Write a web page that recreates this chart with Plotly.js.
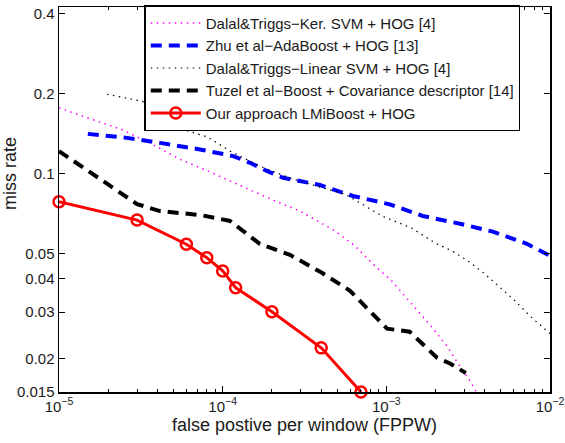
<!DOCTYPE html>
<html>
<head>
<meta charset="utf-8">
<script src="https://cdn.plot.ly/plotly-3.0.1.min.js"></script>
<style>html,body{margin:0;padding:0;background:#fff;}#chart{width:565px;height:443px;}</style>
</head>
<body>
<div id="chart"></div>
<script>
// ---- data ----
const seriesNames = [
  'Dalal&Triggs\u2212Ker. SVM + HOG [4]',
  'Zhu et al\u2212AdaBoost + HOG [13]',
  'Dalal&Triggs\u2212Linear SVM + HOG [4]',
  'Tuzel et al\u2212Boost + Covariance descriptor [14]',
  'Our approach LMiBoost + HOG'
];

const kerSvmX = [1e-5, 1.5e-5, 2.43e-5, 3.6e-5, 5.49e-5, 8.13e-5, 1.31e-4, 2.09e-4, 2.97e-4, 3.66e-4, 4.85e-4, 6.43e-4, 8.51e-4, 1.08e-3, 1.25e-3, 1.5e-3, 1.9e-3, 2.38e-3, 2.74e-3, 3.15e-3, 3.58e-3];
const kerSvmY = [0.1765, 0.162, 0.146, 0.130, 0.113, 0.102, 0.0896, 0.0787, 0.0721, 0.0671, 0.0607, 0.0533, 0.0448, 0.0393, 0.0355, 0.0312, 0.0263, 0.0221, 0.0192, 0.0170, 0.0149];

const zhuX = [1.5e-5, 2.6e-5, 4.14e-5, 7.27e-5, 1.16e-4, 1.47e-4, 1.87e-4, 2.34e-4, 3.93e-4, 6.25e-4, 1.05e-3, 1.67e-3, 2.82e-3, 4.48e-3, 7.22e-3, 1e-2];
const zhuY = [0.1409, 0.1361, 0.1303, 0.1231, 0.1162, 0.1096, 0.102, 0.0963, 0.0904, 0.0822, 0.0764, 0.0691, 0.0646, 0.0603, 0.0543, 0.0489];

const linSvmX = [1.965e-5, 3.21e-5, 4.44e-5, 5.64e-5, 8.13e-5, 1.11e-4, 1.69e-4, 2.58e-4, 3.93e-4, 5.59e-4, 7.1e-4, 9.4e-4, 1.43e-3, 1.98e-3, 2.52e-3, 3.15e-3, 4.0e-3, 5.08e-3, 6.11e-3, 7.54e-3, 9.06e-3, 1e-2];
const linSvmY = [0.1987, 0.1871, 0.1686, 0.1468, 0.137, 0.1213, 0.1065, 0.096, 0.0888, 0.0836, 0.0766, 0.0691, 0.0622, 0.0547, 0.051, 0.0468, 0.0418, 0.0367, 0.0331, 0.029, 0.0262, 0.0249];

const tuzelX = [1e-5, 1.78e-5, 3.0e-5, 4.14e-5, 7.27e-5, 1.11e-4, 1.69e-4, 2.58e-4, 4.04e-4, 6.0e-4, 8.5e-4, 1.01e-3, 1.39e-3, 2.04e-3, 2.45e-3, 3.06e-3];
const tuzelY = [0.1213, 0.0952, 0.0766, 0.0721, 0.0697, 0.0662, 0.0542, 0.0493, 0.0422, 0.0361, 0.029, 0.026, 0.0253, 0.0202, 0.0192, 0.0177];

const oursX = [1e-5, 3e-5, 6e-5, 8e-5, 1e-4, 1.2e-4, 2e-4, 4e-4, 7e-4];
const oursY = [0.0782, 0.0667, 0.0541, 0.0481, 0.0429, 0.0371, 0.0301, 0.022, 0.015];

const xTickVals = [1e-5, 1e-4, 1e-3, 1e-2];
const xTickText = ['10<sup>\u22125</sup>', '10<sup>\u22124</sup>', '10<sup>\u22123</sup>', '10<sup>\u22122</sup>'];
const yTickVals = [0.015, 0.02, 0.03, 0.04, 0.05, 0.1, 0.2, 0.4];
const yTickText = ['0.015', '0.02', '0.03', '0.04', '0.05', '0.1', '0.2', '0.4'];

const xTitle = 'false postive per window (FPPW)';
const yTitle = 'miss rate';

// minor x ticks: 2..9 within each decade
const xMinor = [];
[1e-5, 1e-4, 1e-3].forEach(d => { for (let k = 2; k <= 9; k++) xMinor.push(k * d); });

const FONT = 'Liberation Sans, Arial, Helvetica, sans-serif';
const TXT = '#1a1a1a';

const traces = [
  {x: kerSvmX, y: kerSvmY, name: seriesNames[0], mode: 'lines',
   line: {color: '#ff00ff', width: 1.5, dash: '1.5px,4.5px'}},
  {x: zhuX, y: zhuY, name: seriesNames[1], mode: 'lines',
   line: {color: '#0000ff', width: 4, dash: '11px,7px'}},
  {x: linSvmX, y: linSvmY, name: seriesNames[2], mode: 'lines',
   line: {color: '#000000', width: 1.2, dash: '1.5px,4.5px'}},
  {x: tuzelX, y: tuzelY, name: seriesNames[3], mode: 'lines',
   line: {color: '#000000', width: 4, dash: '11px,7px'}},
  {x: oursX, y: oursY, name: seriesNames[4], mode: 'lines+markers', cliponaxis: false,
   line: {color: '#ff0000', width: 3},
   marker: {symbol: 'circle-open', size: 11, color: '#ff0000', line: {width: 2.5, color: '#ff0000'}}}
];

const layout = {
  width: 565, height: 443,
  margin: {l: 59, r: 15, t: 6, b: 51},
  paper_bgcolor: '#ffffff', plot_bgcolor: '#ffffff',
  font: {family: FONT, color: TXT, size: 15},
  showlegend: true,
  legend: {
    x: 0.1737, y: 1.002, xanchor: 'left', yanchor: 'top',
    bgcolor: '#ffffff', bordercolor: '#000000', borderwidth: 1.5,
    font: {family: FONT, size: 15, color: TXT},
    itemwidth: 50, tracegroupgap: 0,
    entrywidthmode: 'pixels', entrywidth: 335
  },
  xaxis: {
    type: 'log', range: [-5, -2],
    tickmode: 'array', tickvals: xTickVals, ticktext: xTickText,
    ticks: 'inside', ticklen: 6, tickwidth: 1, tickcolor: '#000',
    showline: true, linecolor: '#000', linewidth: 1.5, mirror: 'ticks',
    showgrid: false, zeroline: false,
    tickfont: {family: FONT, size: 15, color: TXT},
    minor: {tickvals: xMinor, ticks: 'inside', ticklen: 3, tickcolor: '#000', showgrid: false},
    title: {text: xTitle, font: {family: FONT, size: 18, color: TXT}, standoff: 5}
  },
  yaxis: {
    type: 'log', range: [Math.log10(0.015), Math.log10(0.4237)],
    tickmode: 'array', tickvals: yTickVals, ticktext: yTickText,
    ticks: 'inside', ticklen: 6, tickwidth: 1, tickcolor: '#000',
    showline: true, linecolor: '#000', linewidth: 1.5, mirror: 'ticks',
    showgrid: false, zeroline: false,
    tickfont: {family: FONT, size: 15, color: TXT}
  },
  annotations: [{
    text: yTitle, xref: 'paper', yref: 'paper', x: -0.0985, y: 0.568,
    xanchor: 'center', yanchor: 'middle', textangle: -90, showarrow: false,
    font: {family: FONT, size: 18, color: TXT}
  }]
};

Plotly.newPlot('chart', traces, layout, {displayModeBar: false, staticPlot: true});
</script>
</body>
</html>
